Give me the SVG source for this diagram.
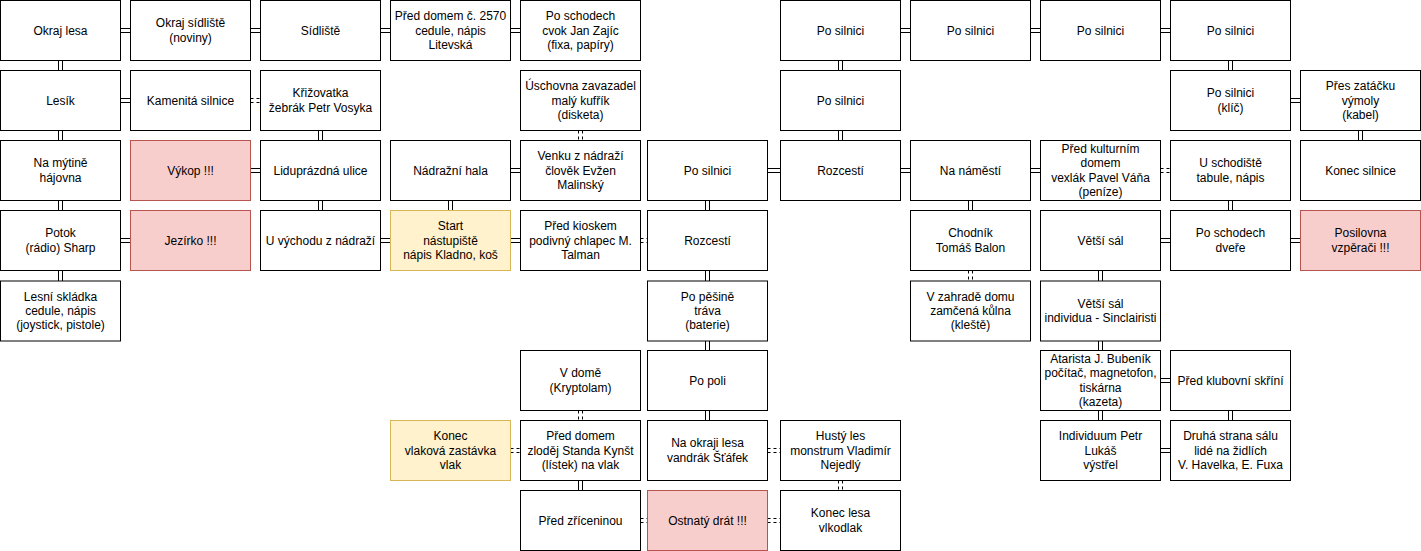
<svg xmlns="http://www.w3.org/2000/svg" width="1421" height="551" viewBox="0 0 1421 551">
<style>
rect{stroke-width:1}
.b{fill:#ffffff;stroke:#000000}
.r{fill:#f8cecc;stroke:#b85450}
.y{fill:#fff2cc;stroke:#d6b656}
text{font-family:"Liberation Sans",Arial,Helvetica,sans-serif;font-size:12px;fill:#000000;text-anchor:middle;dominant-baseline:central}
#connectors path{fill:none;stroke:#000000;stroke-width:1}
#connectors path.d{stroke-dasharray:3 3}
</style>
<rect x="0" y="0" width="1421" height="551" fill="#ffffff"/>
<g id="connectors">
<path d="M120.5 28.5H130.5M120.5 32.5H130.5"/>
<path d="M250.5 28.5H260.5M250.5 32.5H260.5"/>
<path d="M380.5 28.5H390.5M380.5 32.5H390.5"/>
<path d="M510.5 28.5H520.5M510.5 32.5H520.5"/>
<path d="M900.5 28.5H910.5M900.5 32.5H910.5"/>
<path d="M1030.5 28.5H1040.5M1030.5 32.5H1040.5"/>
<path d="M1160.5 28.5H1170.5M1160.5 32.5H1170.5"/>
<path d="M120.5 98.5H130.5M120.5 102.5H130.5"/>
<path class="d" d="M250.5 98.5H260.5M250.5 102.5H260.5"/>
<path d="M1290.5 98.5H1300.5M1290.5 102.5H1300.5"/>
<path d="M250.5 168.5H260.5M250.5 172.5H260.5"/>
<path d="M510.5 168.5H520.5M510.5 172.5H520.5"/>
<path d="M767.5 168.5H780.5M767.5 172.5H780.5"/>
<path d="M900.5 168.5H910.5M900.5 172.5H910.5"/>
<path d="M1030.5 168.5H1040.5M1030.5 172.5H1040.5"/>
<path class="d" d="M1160.5 168.5H1170.5M1160.5 172.5H1170.5"/>
<path d="M120.5 238.5H130.5M120.5 242.5H130.5"/>
<path d="M380.5 238.5H390.5M380.5 242.5H390.5"/>
<path d="M510.5 238.5H520.5M510.5 242.5H520.5"/>
<path class="d" d="M640.5 238.5H647.5M640.5 242.5H647.5"/>
<path d="M1160.5 238.5H1170.5M1160.5 242.5H1170.5"/>
<path d="M1290.5 238.5H1300.5M1290.5 242.5H1300.5"/>
<path d="M1160.5 378.5H1170.5M1160.5 382.5H1170.5"/>
<path class="d" d="M510.5 448.5H520.5M510.5 452.5H520.5"/>
<path class="d" d="M767.5 448.5H780.5M767.5 452.5H780.5"/>
<path d="M1160.5 448.5H1170.5M1160.5 452.5H1170.5"/>
<path class="d" d="M640.5 518.5H647.5M640.5 522.5H647.5"/>
<path class="d" d="M767.5 518.5H780.5M767.5 522.5H780.5"/>
<path d="M58.5 60.5V70.5M62.5 60.5V70.5"/>
<path d="M58.5 130.5V140.5M62.5 130.5V140.5"/>
<path d="M58.5 200.5V210.5M62.5 200.5V210.5"/>
<path d="M58.5 270.5V281M62.5 270.5V281"/>
<path d="M318.5 130.5V140.5M322.5 130.5V140.5"/>
<path d="M318.5 200.5V210.5M322.5 200.5V210.5"/>
<path d="M448.5 200.5V210.5M452.5 200.5V210.5"/>
<path class="d" d="M578.5 130.5V140.5M582.5 130.5V140.5"/>
<path class="d" d="M578.5 410.5V420.5M582.5 410.5V420.5"/>
<path d="M578.5 480.5V490.5M582.5 480.5V490.5"/>
<path d="M705.5 200.5V210.5M709.5 200.5V210.5"/>
<path d="M705.5 270.5V281M709.5 270.5V281"/>
<path d="M705.5 341V350.5M709.5 341V350.5"/>
<path d="M705.5 410.5V420.5M709.5 410.5V420.5"/>
<path d="M838.5 60.5V70.5M842.5 60.5V70.5"/>
<path d="M838.5 130.5V140.5M842.5 130.5V140.5"/>
<path class="d" d="M838.5 480.5V490.5M842.5 480.5V490.5"/>
<path d="M968.5 200.5V210.5M972.5 200.5V210.5"/>
<path class="d" d="M968.5 270.5V281M972.5 270.5V281"/>
<path d="M1098.5 270.5V281M1102.5 270.5V281"/>
<path d="M1098.5 341V350.5M1102.5 341V350.5"/>
<path d="M1098.5 410.5V420.5M1102.5 410.5V420.5"/>
<path d="M1228.5 60.5V70.5M1232.5 60.5V70.5"/>
<path d="M1228.5 200.5V210.5M1232.5 200.5V210.5"/>
<path d="M1228.5 410.5V420.5M1232.5 410.5V420.5"/>
<path d="M1358.5 130.5V140.5M1362.5 130.5V140.5"/>
</g>

<g id="n-okraj-lesa"><rect class="b" x="0.5" y="0.5" width="120" height="60"/><text x="60.5" y="30.5">Okraj lesa</text></g>
<g id="n-okraj-sidliste"><rect class="b" x="130.5" y="0.5" width="120" height="60"/><text><tspan x="190.5" y="23.3">Okraj sídliště</tspan><tspan x="190.5" y="37.7">(noviny)</tspan></text></g>
<g id="n-sidliste"><rect class="b" x="260.5" y="0.5" width="120" height="60"/><text x="320.5" y="30.5">Sídliště</text></g>
<g id="n-pred-domem-2570"><rect class="b" x="390.5" y="0.5" width="120" height="60"/><text><tspan x="450.5" y="16.1">Před domem č. 2570</tspan><tspan x="450.5" y="30.5">cedule, nápis</tspan><tspan x="450.5" y="44.9">Litevská</tspan></text></g>
<g id="n-po-schodech-zajic"><rect class="b" x="520.5" y="0.5" width="120" height="60"/><text><tspan x="580.5" y="16.1">Po schodech</tspan><tspan x="580.5" y="30.5">cvok Jan Zajíc</tspan><tspan x="580.5" y="44.9">(fixa, papíry)</tspan></text></g>
<g id="n-po-silnici-r0c6"><rect class="b" x="780.5" y="0.5" width="120" height="60"/><text x="840.5" y="30.5">Po silnici</text></g>
<g id="n-po-silnici-r0c7"><rect class="b" x="910.5" y="0.5" width="120" height="60"/><text x="970.5" y="30.5">Po silnici</text></g>
<g id="n-po-silnici-r0c8"><rect class="b" x="1040.5" y="0.5" width="120" height="60"/><text x="1100.5" y="30.5">Po silnici</text></g>
<g id="n-po-silnici-r0c9"><rect class="b" x="1170.5" y="0.5" width="120" height="60"/><text x="1230.5" y="30.5">Po silnici</text></g>

<g id="n-lesik"><rect class="b" x="0.5" y="70.5" width="120" height="60"/><text x="60.5" y="100.5">Lesík</text></g>
<g id="n-kamenita-silnice"><rect class="b" x="130.5" y="70.5" width="120" height="60"/><text x="190.5" y="100.5">Kamenitá silnice</text></g>
<g id="n-krizovatka"><rect class="b" x="260.5" y="70.5" width="120" height="60"/><text><tspan x="320.5" y="93.3">Křižovatka</tspan><tspan x="320.5" y="107.7">žebrák Petr Vosyka</tspan></text></g>
<g id="n-uschovna"><rect class="b" x="520.5" y="70.5" width="120" height="60"/><text><tspan x="580.5" y="86.1">Úschovna zavazadel</tspan><tspan x="580.5" y="100.5">malý kufřík</tspan><tspan x="580.5" y="114.9">(disketa)</tspan></text></g>
<g id="n-po-silnici-r1c6"><rect class="b" x="780.5" y="70.5" width="120" height="60"/><text x="840.5" y="100.5">Po silnici</text></g>
<g id="n-po-silnici-klic"><rect class="b" x="1170.5" y="70.5" width="120" height="60"/><text><tspan x="1230.5" y="93.3">Po silnici</tspan><tspan x="1230.5" y="107.7">(klíč)</tspan></text></g>
<g id="n-pres-zatacku"><rect class="b" x="1300.5" y="70.5" width="120" height="60"/><text><tspan x="1360.5" y="86.1">Přes zatáčku</tspan><tspan x="1360.5" y="100.5">výmoly</tspan><tspan x="1360.5" y="114.9">(kabel)</tspan></text></g>

<g id="n-na-mytine"><rect class="b" x="0.5" y="140.5" width="120" height="60"/><text><tspan x="60.5" y="163.3">Na mýtině</tspan><tspan x="60.5" y="177.7">hájovna</tspan></text></g>
<g id="n-vykop"><rect class="r" x="130.5" y="140.5" width="120" height="60"/><text x="190.5" y="170.5">Výkop !!!</text></g>
<g id="n-liduprazdna"><rect class="b" x="260.5" y="140.5" width="120" height="60"/><text x="320.5" y="170.5">Liduprázdná ulice</text></g>
<g id="n-nadrazni-hala"><rect class="b" x="390.5" y="140.5" width="120" height="60"/><text x="450.5" y="170.5">Nádražní hala</text></g>
<g id="n-venku-z-nadrazi"><rect class="b" x="520.5" y="140.5" width="120" height="60"/><text><tspan x="580.5" y="156.1">Venku z nádraží</tspan><tspan x="580.5" y="170.5">člověk Evžen</tspan><tspan x="580.5" y="184.9">Malinský</tspan></text></g>
<g id="n-po-silnici-r2c5"><rect class="b" x="647.5" y="140.5" width="120" height="60"/><text x="707.5" y="170.5">Po silnici</text></g>
<g id="n-rozcesti-r2"><rect class="b" x="780.5" y="140.5" width="120" height="60"/><text x="840.5" y="170.5">Rozcestí</text></g>
<g id="n-na-namesti"><rect class="b" x="910.5" y="140.5" width="120" height="60"/><text x="970.5" y="170.5">Na náměstí</text></g>
<g id="n-pred-kulturnim"><rect class="b" x="1040.5" y="140.5" width="120" height="60"/><text><tspan x="1100.5" y="148.9">Před kulturním</tspan><tspan x="1100.5" y="163.3">domem</tspan><tspan x="1100.5" y="177.7">vexlák Pavel Váňa</tspan><tspan x="1100.5" y="192.1">(peníze)</tspan></text></g>
<g id="n-u-schodiste"><rect class="b" x="1170.5" y="140.5" width="120" height="60"/><text><tspan x="1230.5" y="163.3">U schodiště</tspan><tspan x="1230.5" y="177.7">tabule, nápis</tspan></text></g>
<g id="n-konec-silnice"><rect class="b" x="1300.5" y="140.5" width="120" height="60"/><text x="1360.5" y="170.5">Konec silnice</text></g>

<g id="n-potok"><rect class="b" x="0.5" y="210.5" width="120" height="60"/><text><tspan x="60.5" y="233.3">Potok</tspan><tspan x="60.5" y="247.7">(rádio) Sharp</tspan></text></g>
<g id="n-jezirko"><rect class="r" x="130.5" y="210.5" width="120" height="60"/><text x="190.5" y="240.5">Jezírko !!!</text></g>
<g id="n-u-vychodu"><rect class="b" x="260.5" y="210.5" width="120" height="60"/><text x="320.5" y="240.5">U východu z nádraží</text></g>
<g id="n-start"><rect class="y" x="390.5" y="210.5" width="120" height="60"/><text><tspan x="450.5" y="226.1">Start</tspan><tspan x="450.5" y="240.5">nástupiště</tspan><tspan x="450.5" y="254.9">nápis Kladno, koš</tspan></text></g>
<g id="n-pred-kioskem"><rect class="b" x="520.5" y="210.5" width="120" height="60"/><text><tspan x="580.5" y="226.1">Před kioskem</tspan><tspan x="580.5" y="240.5">podivný chlapec M.</tspan><tspan x="580.5" y="254.9">Talman</tspan></text></g>
<g id="n-rozcesti-r3"><rect class="b" x="647.5" y="210.5" width="120" height="60"/><text x="707.5" y="240.5">Rozcestí</text></g>
<g id="n-chodnik"><rect class="b" x="910.5" y="210.5" width="120" height="60"/><text><tspan x="970.5" y="233.3">Chodník</tspan><tspan x="970.5" y="247.7">Tomáš Balon</tspan></text></g>
<g id="n-vetsi-sal"><rect class="b" x="1040.5" y="210.5" width="120" height="60"/><text x="1100.5" y="240.5">Větší sál</text></g>
<g id="n-po-schodech-dvere"><rect class="b" x="1170.5" y="210.5" width="120" height="60"/><text><tspan x="1230.5" y="233.3">Po schodech</tspan><tspan x="1230.5" y="247.7">dveře</tspan></text></g>
<g id="n-posilovna"><rect class="r" x="1300.5" y="210.5" width="120" height="60"/><text><tspan x="1360.5" y="233.3">Posilovna</tspan><tspan x="1360.5" y="247.7">vzpěrači !!!</tspan></text></g>

<g id="n-lesni-skladka"><rect class="b" x="0.5" y="281" width="120" height="60"/><text><tspan x="60.5" y="296.6">Lesní skládka</tspan><tspan x="60.5" y="311">cedule, nápis</tspan><tspan x="60.5" y="325.4">(joystick, pistole)</tspan></text></g>
<g id="n-po-pesine"><rect class="b" x="647.5" y="281" width="120" height="60"/><text><tspan x="707.5" y="296.6">Po pěšině</tspan><tspan x="707.5" y="311">tráva</tspan><tspan x="707.5" y="325.4">(baterie)</tspan></text></g>
<g id="n-v-zahrade"><rect class="b" x="910.5" y="281" width="120" height="60"/><text><tspan x="970.5" y="296.6">V zahradě domu</tspan><tspan x="970.5" y="311">zamčená kůlna</tspan><tspan x="970.5" y="325.4">(kleště)</tspan></text></g>
<g id="n-vetsi-sal-individua"><rect class="b" x="1040.5" y="281" width="120" height="60"/><text><tspan x="1100.5" y="303.8">Větší sál</tspan><tspan x="1100.5" y="318.2">individua - Sinclairisti</tspan></text></g>

<g id="n-v-dome"><rect class="b" x="520.5" y="350.5" width="120" height="60"/><text><tspan x="580.5" y="373.3">V domě</tspan><tspan x="580.5" y="387.7">(Kryptolam)</tspan></text></g>
<g id="n-po-poli"><rect class="b" x="647.5" y="350.5" width="120" height="60"/><text x="707.5" y="380.5">Po poli</text></g>
<g id="n-atarista"><rect class="b" x="1040.5" y="350.5" width="120" height="60"/><text><tspan x="1100.5" y="358.9">Atarista J. Bubeník</tspan><tspan x="1100.5" y="373.3">počítač, magnetofon,</tspan><tspan x="1100.5" y="387.7">tiskárna</tspan><tspan x="1100.5" y="402.1">(kazeta)</tspan></text></g>
<g id="n-pred-klubovni"><rect class="b" x="1170.5" y="350.5" width="120" height="60"/><text x="1230.5" y="380.5">Před klubovní skříní</text></g>

<g id="n-konec"><rect class="y" x="390.5" y="420.5" width="120" height="60"/><text><tspan x="450.5" y="436.1">Konec</tspan><tspan x="450.5" y="450.5">vlaková zastávka</tspan><tspan x="450.5" y="464.9">vlak</tspan></text></g>
<g id="n-pred-domem-kynst"><rect class="b" x="520.5" y="420.5" width="120" height="60"/><text><tspan x="580.5" y="436.1">Před domem</tspan><tspan x="580.5" y="450.5">zloděj Standa Kynšt</tspan><tspan x="580.5" y="464.9">(lístek) na vlak</tspan></text></g>
<g id="n-na-okraji-lesa"><rect class="b" x="647.5" y="420.5" width="120" height="60"/><text><tspan x="707.5" y="443.3">Na okraji lesa</tspan><tspan x="707.5" y="457.7">vandrák Šťáfek</tspan></text></g>
<g id="n-husty-les"><rect class="b" x="780.5" y="420.5" width="120" height="60"/><text><tspan x="840.5" y="436.1">Hustý les</tspan><tspan x="840.5" y="450.5">monstrum Vladimír</tspan><tspan x="840.5" y="464.9">Nejedlý</tspan></text></g>
<g id="n-individuum"><rect class="b" x="1040.5" y="420.5" width="120" height="60"/><text><tspan x="1100.5" y="436.1">Individuum Petr</tspan><tspan x="1100.5" y="450.5">Lukáš</tspan><tspan x="1100.5" y="464.9">výstřel</tspan></text></g>
<g id="n-druha-strana"><rect class="b" x="1170.5" y="420.5" width="120" height="60"/><text><tspan x="1230.5" y="436.1">Druhá strana sálu</tspan><tspan x="1230.5" y="450.5">lidé na židlích</tspan><tspan x="1230.5" y="464.9">V. Havelka, E. Fuxa</tspan></text></g>

<g id="n-pred-zriceninou"><rect class="b" x="520.5" y="490.5" width="120" height="60"/><text x="580.5" y="520.5">Před zříceninou</text></g>
<g id="n-ostnaty-drat"><rect class="r" x="647.5" y="490.5" width="120" height="60"/><text x="707.5" y="520.5">Ostnatý drát !!!</text></g>
<g id="n-konec-lesa"><rect class="b" x="780.5" y="490.5" width="120" height="60"/><text><tspan x="840.5" y="513.3">Konec lesa</tspan><tspan x="840.5" y="527.7">vlkodlak</tspan></text></g>
</svg>
